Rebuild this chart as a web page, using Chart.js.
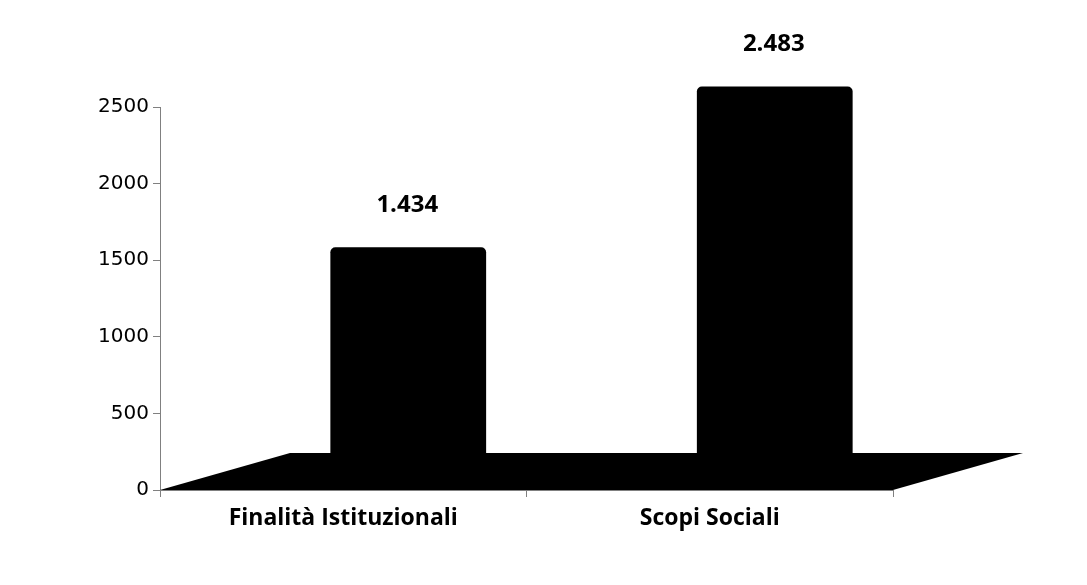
<!DOCTYPE html>
<html>
<head>
<meta charset="utf-8">
<script src="https://cdn.jsdelivr.net/npm/chart.js@4/dist/chart.umd.min.js"></script>
<style>
  html, body { margin: 0; background: #fff; }
  #wrap { width: 1087px; height: 585px; }
</style>
</head>
<body>
<div id="wrap"><canvas id="chart"></canvas></div>
<script>
// values
let categories = ['Finalità Istituzionali', 'Scopi Sociali'];
let values = [1434, 2483];
let valueLabels = ['1.434', '2.483'];
let yMin = 0;
let yMax = 2500;
let yStep = 500;

// depth of the fake 3d floor, in pixels
let depthX = 130;
let depthY = -37;
// how far the bars sit back from the front of the floor
let barShiftX = 65;
let barShiftY = -23;

// draws the black floor and pushes the bars back into it
const floorPlugin = {
    id: 'floor',
    beforeDatasetsDraw(chart) {
        let ctx = chart.ctx;
        let area = chart.chartArea;
        let y0 = chart.scales.y.getPixelForValue(0);
        ctx.save();
        ctx.fillStyle = '#000';
        ctx.beginPath();
        ctx.moveTo(area.left, y0);
        ctx.lineTo(area.left + depthX, y0 + depthY);
        ctx.lineTo(area.right + depthX, y0 + depthY);
        ctx.lineTo(area.right, y0);
        ctx.closePath();
        ctx.fill();
        ctx.translate(barShiftX, barShiftY);
    },
    afterDatasetsDraw(chart) {
        let ctx = chart.ctx;
        ctx.restore();
        // value labels above each bar
        let bars = chart.getDatasetMeta(0).data;
        ctx.save();
        ctx.fillStyle = '#000';
        ctx.font = 'bold 24px "Open Sans"';
        ctx.textAlign = 'center';
        ctx.textBaseline = 'middle';
        for (let i = 0; i < bars.length; i++) {
            ctx.fillText(valueLabels[i], bars[i].x + barShiftX - 1, bars[i].y + barShiftY - 42);
        }
        ctx.restore();
    }
};

new Chart(document.getElementById('chart'), {
    type: 'bar',
    data: {
        labels: categories,
        datasets: [{
            data: values,
            backgroundColor: '#000',
            borderRadius: { topLeft: 5, topRight: 5 },
            borderSkipped: 'bottom',
            categoryPercentage: 1,
            barPercentage: 0.425,
            clip: false
        }]
    },
    options: {
        responsive: true,
        maintainAspectRatio: false,
        animation: false,
        layout: { padding: { top: 107, right: 194, bottom: 0, left: 0 } },
        plugins: { legend: { display: false }, tooltip: { enabled: false } },
        scales: {
            x: {
                afterFit: function(s) { s.height = 95; },
                grid: { display: true, drawOnChartArea: false, tickLength: 7, color: '#808080' },
                border: { color: '#808080' },
                ticks: {
                    color: '#000',
                    padding: 8,
                    font: { family: 'Open Sans', size: 23, weight: 'bold' }
                }
            },
            y: {
                min: yMin,
                max: yMax,
                afterFit: function(s) { s.width = 160; },
                grid: { display: true, drawOnChartArea: false, tickLength: 7, color: '#808080' },
                border: { color: '#808080' },
                ticks: {
                    stepSize: yStep,
                    color: '#000',
                    padding: 4,
                    font: { family: 'DejaVu Sans', size: 20 },
                    callback: function(value) { return String(value); }
                }
            }
        }
    },
    plugins: [floorPlugin]
});
</script>
</body>
</html>
